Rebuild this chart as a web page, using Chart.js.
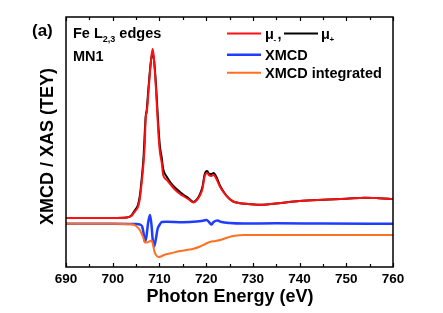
<!DOCTYPE html>
<html>
<head>
<meta charset="utf-8">
<script src="https://cdn.jsdelivr.net/npm/chart.js@4/dist/chart.umd.min.js"></script>
<style>
html,body{margin:0;padding:0;background:#fff;}
#wrap{width:443px;height:313px;}
</style>
</head>
<body>
<div id="wrap"><canvas id="c" width="443" height="313"></canvas></div>
<script>
// ---- Data (photon energy in eV, intensity in arbitrary units) ----
const muMinusE = [690,700,703,704,704.5,705,705.4,705.8,706.2,706.6,706.9,707.05,707.3,707.6,708,708.35,708.55,708.8,709.27,709.76,710.1,710.5,710.8,711.6,712.3,713.2,714.4,715.1,716.3,717.3,718,718.6,719.2,719.7,720.2,720.7,721.1,721.6,722.2,723,724,724.8,725.8,727,729,731,733,736,740,745,750,754,757,760];
const muMinusY = [49,49,49.5,51,54,57,60,68,84,104,127,149,155,172,196,213,218,210,177,135,115,104,92,87,83,78,73,71,67.5,64.5,67,71,78,91,94,91.5,91,92,88,80,73,69,65.5,64,63,62.3,62.5,64,66,67.3,68.3,69.3,68.8,68];

const muPlusE = [690,700,703,704,704.5,705,705.4,705.8,706.2,706.6,706.9,707.05,707.3,707.6,708,708.35,708.55,708.8,709.27,709.76,710.1,710.5,710.8,711.6,712.3,713.2,714.4,715.1,716.3,717.3,718,718.6,719.2,719.7,720.2,720.7,721.1,721.6,722.2,723,724,724.8,725.8,727,729,731,733,736,740,745,750,754,757,760];
const muPlusY = [49,49,49.5,51.5,55,58.5,62,71,88,110,138,150,158,176,198,211,213,209,182,142,121,109,98,90,85,80,75,72.5,68.5,65,67.5,72,80,93,96,93,93,94,90,81,73.5,69,65.5,64,63,62.3,62.5,64,66,67.3,68.3,69.3,68.8,68];

const xmcdE = [690,700,705,705.8,706.3,706.6,706.85,707.2,707.6,707.98,708.3,708.55,708.85,709.2,709.6,710,710.5,711.5,715,718,719.5,720.1,720.6,721.1,721.6,722.4,723.3,725,728,735,745,760];
const xmcdY = [43.3,43.3,43,42.5,40.5,34,25.3,30,45,52,42,28,20.5,27,38,42,45,45.3,44.8,45.5,46.5,47,45,42.5,45,46.5,45,44,43.5,43.7,43.5,43.3];

const intE = [690,700,704,705,705.8,706.5,706.9,707.3,707.8,708.3,708.6,708.9,709.27,709.8,710.3,711,712.5,714.4,716.5,717.5,718.7,719.8,720.8,722,723,724.3,725.3,726.5,728,732,740,750,760];
const intY = [43.3,43.3,42.7,41,37,30,24.5,24.5,25.5,26.5,23,16,12,10,10.5,12,13.7,16,17.5,18.5,20.5,23,25,26,27,29,30.5,31.5,32,32,32,32,32];

const xTicks = [690,700,710,720,730,740,750,760];
const legendLabels = ["XMCD", "XMCD integrated"];

const pts = (xs, ys) => xs.map((x, i) => ({x: x, y: ys[i]}));

const FONT = "'Liberation Sans', Arial, Helvetica, sans-serif";

const decor = {
  id: 'decor',
  afterDraw(chart) {
    const ctx = chart.ctx;
    const a = chart.chartArea;
    const xs = chart.scales.x;
    ctx.save();
    ctx.strokeStyle = '#000';
    ctx.lineWidth = 1.5;
    ctx.strokeRect(a.left, a.top, a.right - a.left, a.bottom - a.top);
    ctx.lineWidth = 1.2;
    for (let v = 690; v <= 760; v += 5) {
      const px = Math.round(xs.getPixelForValue(v)) + 0.5;
      const len = (v % 10 === 0) ? 4 : 3;
      ctx.beginPath();
      ctx.moveTo(px, a.bottom); ctx.lineTo(px, a.bottom - len);
      ctx.moveTo(px, a.top); ctx.lineTo(px, a.top + len);
      ctx.stroke();
    }
    ctx.fillStyle = '#000';
    ctx.textBaseline = 'alphabetic';
    ctx.textAlign = 'left';
    ctx.font = 'bold 17px ' + FONT;
    ctx.fillText('(a)', 32, 36);
    ctx.font = 'bold 14.5px ' + FONT;
    let x = 73;
    ctx.fillText('Fe L', x, 38.3);
    x += ctx.measureText('Fe L').width;
    ctx.font = 'bold 9px ' + FONT;
    ctx.fillText('2,3', x, 41.5);
    x += ctx.measureText('2,3').width;
    ctx.font = 'bold 14.5px ' + FONT;
    ctx.fillText(' edges', x, 38.3);
    ctx.fillText('MN1', 73, 61);
    const line = (x1, x2, y, col, w) => {
      ctx.strokeStyle = col; ctx.lineWidth = w;
      ctx.beginPath(); ctx.moveTo(x1, y); ctx.lineTo(x2, y); ctx.stroke();
    };
    line(227, 261, 33.5, '#ff1010', 2);
    ctx.font = 'bold 14.5px ' + FONT;
    ctx.fillText('\u03bc', 265, 38.5);
    ctx.font = 'bold 8px ' + FONT;
    ctx.fillText('-', 273.5, 41.5);
    ctx.font = 'bold 14.5px ' + FONT;
    ctx.fillText(',', 277.5, 38.5);
    line(284, 318, 33.5, '#000000', 2);
    ctx.fillText('\u03bc', 321, 38.5);
    ctx.font = 'bold 8px ' + FONT;
    ctx.fillText('+', 329.5, 41.5);
    line(227, 261, 54.7, '#1f3dff', 2.5);
    ctx.font = 'bold 14.5px ' + FONT;
    ctx.fillText(legendLabels[0], 265, 60);
    line(227, 261, 72.7, '#ff7020', 2);
    ctx.fillText(legendLabels[1], 265, 78.3);
    ctx.font = 'bold 18px ' + FONT;
    ctx.textAlign = 'center';
    ctx.fillText('Photon Energy (eV)', 230, 302);
    ctx.translate(53, 146.5);
    ctx.rotate(-Math.PI / 2);
    ctx.fillText('XMCD / XAS (TEY)', 0, 0);
    ctx.restore();
  }
};

new Chart(document.getElementById('c'), {
  type: 'line',
  data: {
    datasets: [
      {label: 'μ-', data: pts(muMinusE, muMinusY), borderColor: '#ff1010', borderWidth: 2, order: 0},
      {label: 'μ+', data: pts(muPlusE, muPlusY), borderColor: '#000000', borderWidth: 2, order: 1},
      {label: 'XMCD integrated', data: pts(intE, intY), borderColor: '#ff7020', borderWidth: 2, order: 2},
      {label: 'XMCD', data: pts(xmcdE, xmcdY), borderColor: '#1f3dff', borderWidth: 2.5, order: 3}
    ]
  },
  options: {
    responsive: false,
    animation: false,
    devicePixelRatio: 1,
    layout: {padding: {left: 66, top: 17, right: 50, bottom: 0}},
    elements: {point: {radius: 0}, line: {cubicInterpolationMode: 'monotone', fill: false}},
    plugins: {legend: {display: false}, tooltip: {enabled: false}},
    scales: {
      x: {
        type: 'linear', min: 690, max: 760,
        afterBuildTicks: (s) => { s.ticks = xTicks.map(v => ({value: v})); },
        afterFit: (s) => { s.height = 46; },
        grid: {display: false, drawTicks: false},
        border: {display: false},
        ticks: {color: '#000', padding: 4, maxRotation: 0, font: {family: FONT, size: 13.5, weight: 'bold'}}
      },
      y: {
        display: false, min: 0, max: 250
      }
    }
  },
  plugins: [decor]
});
</script>
</body>
</html>
